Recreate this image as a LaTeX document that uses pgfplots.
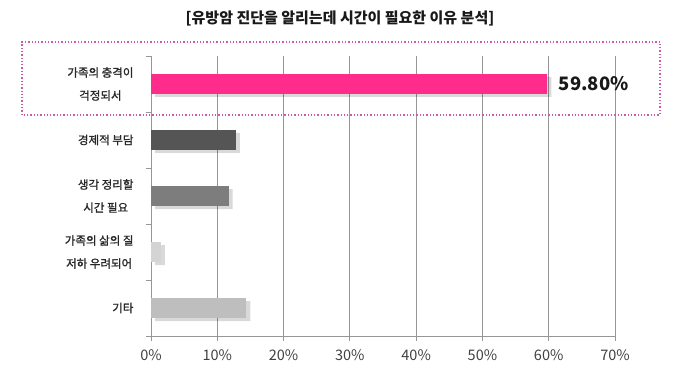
\documentclass[border=0pt]{standalone}
\usepackage{fontspec}
\usepackage{pgfplots}
\pgfplotsset{compat=1.18}
\newfontfamily\kr{Noto Sans CJK KR}
\newfontfamily\krm[FakeBold=1.2]{Noto Sans CJK KR}
\definecolor{barpink}{RGB}{255,44,140}
\definecolor{bardark}{RGB}{85,85,85}
\definecolor{barmid}{RGB}{125,125,125}
\definecolor{barlight}{RGB}{212,212,212}
\definecolor{barlight2}{RGB}{190,190,190}
\definecolor{boxpink}{RGB}{205,90,170}
\definecolor{gridgray}{RGB}{150,150,150}
\begin{document}
\begin{tikzpicture}[font=\kr]
\path (0pt,0pt) rectangle (680pt,377pt);
\begin{axis}[
  at={(151pt,41pt)}, anchor=south west,
  scale only axis, width=464pt, height=280pt,
  xmin=0, xmax=70, ymin=-0.5, ymax=4.5, y dir=reverse,
  xtick={0,10,...,70},
  xticklabel={\pgfmathprintnumber{\tick}\%},
  /pgf/number format/assume math mode=true,
  ticklabel style={font=\kr\fontsize{14.5}{16}\selectfont, text=black!75},
  ytick={0,1,2,3,4},
  yticklabels={{가족의 충격이\\걱정되서},{경제적 부담},{생각 정리할\\시간 필요},{가족의 삶의 질\\저하 우려되어},{기타}},
  yticklabel style={align=center, font=\krm\fontsize{11.5}{23}\selectfont, text=black!85},
  minor ytick={-0.5,0.5,...,4.5},
  axis lines*=left,
  axis line style={gridgray, line width=0.8pt},
  tick style={gridgray, line width=0.8pt},
  major tick length=5pt, minor tick length=5pt,
  tick align=outside,
  ytick style={draw=none},
  minor y tick style={draw=gridgray},
  xmajorgrids, grid style={gridgray, line width=0.8pt},
  xtick pos=bottom, ytick pos=left,
  yticklabel shift=9pt,
  xticklabel shift=5pt,
  xbar, bar shift=0pt, bar width=20pt,
  clip=false,
]
\addplot[fill=black, opacity=0.15, draw=none, xshift=4pt, yshift=-3pt] coordinates {(59.8,0) (12.8,1) (11.7,2) (1.5,3) (14.4,4)};
\addplot[fill=barpink, draw=none] coordinates {(59.8,0)};
\addplot[fill=bardark, draw=none] coordinates {(12.8,1)};
\addplot[fill=barmid, draw=none] coordinates {(11.7,2)};
\addplot[fill=barlight, draw=none] coordinates {(1.5,3)};
\addplot[fill=barlight2, draw=none] coordinates {(14.4,4)};
\node[anchor=west, font=\kr\bfseries\fontsize{18.5}{22}\selectfont, text=black!90] at (axis cs:59.8,0) {\hspace{8pt}59.80\%};
\end{axis}
\draw[boxpink, dotted, line width=1.3pt] (22pt,262pt) rectangle (660pt,335pt);
\node[font=\kr\bfseries\fontsize{15}{18}\selectfont, text=black!90] at (340pt,359pt) {[유방암 진단을 알리는데 시간이 필요한 이유 분석]};
\end{tikzpicture}
\end{document}
